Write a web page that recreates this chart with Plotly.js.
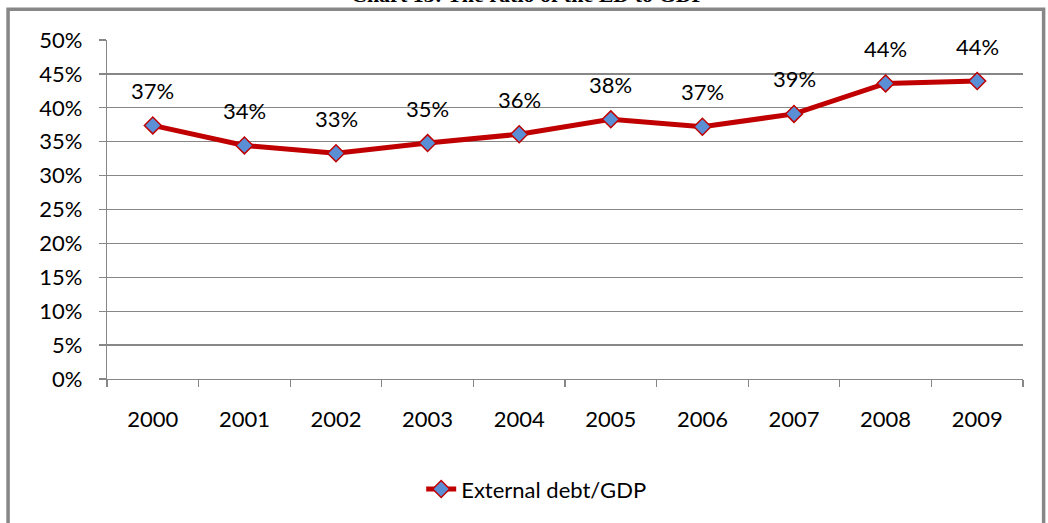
<!DOCTYPE html>
<html>
<head>
<meta charset="utf-8">
<script src="https://cdn.plot.ly/plotly-3.0.1.min.js"></script>
<style>
html,body{margin:0;padding:0;background:#fff;}
#chart{width:1048px;height:523px;}
</style>
</head>
<body>
<div id="chart"></div>
<script>
var years = ['2000','2001','2002','2003','2004','2005','2006','2007','2008','2009'];
var debtToGdp = [37.4, 34.45, 33.3, 34.8, 36.1, 38.3, 37.2, 39.1, 43.6, 43.95];
var seriesName = 'External debt/GDP';
var chartTitle = 'Chart 13: The ratio of the ED to GDP';
var yTicks = [0,5,10,15,20,25,30,35,40,45,50];

var FONT = 'Lato, "Open Sans", sans-serif';
var GRAY = '#878787';

var trace = {
  x: years,
  y: debtToGdp,
  type: 'scatter',
  mode: 'lines+markers',
  name: seriesName,
  line: {color: '#C00000', width: 5},
  marker: {symbol: 'diamond', size: 13, color: '#5A8FD5', line: {color: '#C00000', width: 1.5}},
  cliponaxis: false,
  hoverinfo: 'x+y'
};

var annotations = years.map(function(yr, i){
  return {
    x: i, y: debtToGdp[i], xref: 'x', yref: 'y',
    text: Math.round(debtToGdp[i]) + '%',
    showarrow: false, yshift: 35, yanchor: 'middle',
    font: {family: FONT, size: 22, color: '#000'}
  };
});
annotations.push({
  x: 0.46, y: 1.135, xref: 'paper', yref: 'paper',
  text: '<b>' + chartTitle + '</b>', showarrow: false,
  xanchor: 'center', yanchor: 'middle',
  font: {family: '"Liberation Serif", "Times New Roman", serif', size: 22, color: '#000'}
});

var layout = {
  width: 1048, height: 523,
  margin: {l: 107, r: 25, t: 40, b: 144},
  paper_bgcolor: '#fff', plot_bgcolor: '#fff',
  showlegend: true,
  legend: {
    orientation: 'h', x: 0.343, xanchor: 'left', y: -0.325, yanchor: 'middle',
    font: {family: FONT, size: 22, color: '#000'}
  },
  xaxis: {
    type: 'category', categoryorder: 'array', categoryarray: years,
    range: [-0.5, years.length - 0.5], autorange: false,
    showline: true, linecolor: GRAY, linewidth: 1.3,
    ticks: 'outside', tickson: 'boundaries', ticklen: 7, tickcolor: GRAY, tickwidth: 1.3,
    showgrid: false, zeroline: false, tickangle: 0,
    ticklabelstandoff: 20,
    tickfont: {family: FONT, size: 22, color: '#000'}
  },
  yaxis: {
    range: [0, 50], autorange: false, tickvals: yTicks, ticktext: yTicks.map(function(v){return v + '%';}),
    showline: true, linecolor: GRAY, linewidth: 1.3,
    ticks: 'outside', ticklen: 7, tickcolor: GRAY, tickwidth: 1.3,
    showgrid: true, gridcolor: GRAY, gridwidth: 1.3, zeroline: false,
    ticklabelstandoff: 12,
    tickfont: {family: FONT, size: 22, color: '#000'}
  },
  shapes: [{
    type: 'rect', xref: 'paper', yref: 'paper',
    x0: -0.108, x1: 1.0225, y0: -0.47, y1: 1.091,
    line: {color: GRAY, width: 3.5}, fillcolor: 'rgba(0,0,0,0)', layer: 'below'
  }],
  annotations: annotations
};

Plotly.newPlot('chart', [trace], layout, {displayModeBar: false, staticPlot: true});
</script>
</body>
</html>
